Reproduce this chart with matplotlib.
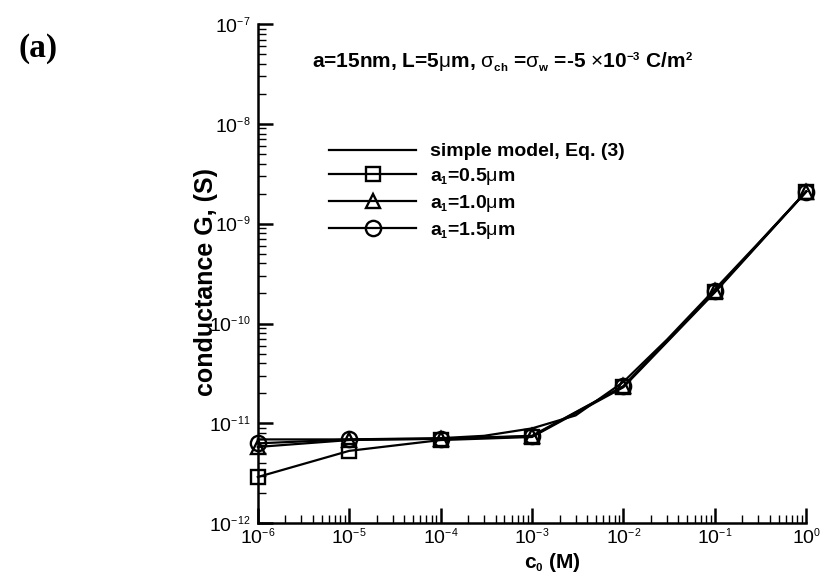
import math
import matplotlib
matplotlib.use("Agg")
import matplotlib.pyplot as plt
import matplotlib._mathtext as mtext
from matplotlib.ticker import LogLocator, NullFormatter, FuncFormatter

# smaller super/subscripts, like the original figure
mtext.SHRINK_FACTOR = 0.55

plt.rcParams['font.family'] = ['Liberation Sans', 'DejaVu Sans']
plt.rcParams['mathtext.fontset'] = 'custom'
plt.rcParams['mathtext.rm'] = 'Liberation Sans'
plt.rcParams['mathtext.it'] = 'Liberation Sans:italic'
plt.rcParams['mathtext.bf'] = 'Liberation Sans:bold'

# concentrations (M)
conc = [1e-6, 1e-5, 1e-4, 1e-3, 1e-2, 1e-1, 1.0]
# conductance (S) for each a1
g_a05 = [2.9e-12, 5.3e-12, 6.8e-12, 7.3e-12, 2.3e-11, 2.05e-10, 2.1e-9]
g_a10 = [5.8e-12, 6.8e-12, 7.0e-12, 7.4e-12, 2.35e-11, 2.1e-10, 2.1e-9]
g_a15 = [6.3e-12, 6.9e-12, 7.0e-12, 7.5e-12, 2.35e-11, 2.1e-10, 2.1e-9]

# simple model curve, read at half-decade steps
conc_model = [1e-6, 3e-6, 1e-5, 3e-5, 1e-4, 3e-4, 1e-3, 3e-3, 1e-2, 3e-2, 1e-1, 3e-1, 1.0]
g_model = [6.9e-12, 6.9e-12, 6.9e-12, 7.0e-12, 7.1e-12, 7.5e-12, 8.9e-12,
           1.2e-11, 2.6e-11, 6.9e-11, 2.2e-10, 6.4e-10, 2.1e-9]

fig = plt.figure(figsize=(8.21, 5.73), dpi=100)
ax = fig.add_axes([0.314, 0.087, 0.668, 0.871])

lw = 1.6
ax.plot(conc_model, g_model, color='black', lw=lw, clip_on=False,
        label='simple model, Eq. (3)')
ax.plot(conc, g_a05, color='black', lw=lw, marker='s', ms=9.5, mew=1.7,
        fillstyle='none', clip_on=False, label=r'a$_{\mathbf{1}}$=0.5$\mathrm{\mu}$m')
ax.plot(conc, g_a10, color='black', lw=lw, marker='^', ms=10, mew=1.7,
        fillstyle='none', clip_on=False, label=r'a$_{\mathbf{1}}$=1.0$\mathrm{\mu}$m')
ax.plot(conc, g_a15, color='black', lw=lw, marker='o', ms=11, mew=1.7,
        fillstyle='none', clip_on=False, label=r'a$_{\mathbf{1}}$=1.5$\mathrm{\mu}$m')

ax.set_xscale('log')
ax.set_yscale('log')
ax.set_xlim(1e-6, 1.0)
ax.set_ylim(1e-12, 1e-7)

ax.spines['top'].set_visible(False)
ax.spines['right'].set_visible(False)
ax.spines['left'].set_linewidth(1.8)
ax.spines['bottom'].set_linewidth(1.8)


def pow_label(v, pos):
    return r'$10^{%d}$' % round(math.log10(v))


for axis in (ax.xaxis, ax.yaxis):
    axis.set_major_locator(LogLocator(base=10, numticks=20))
    axis.set_minor_locator(LogLocator(base=10, subs=range(2, 10), numticks=20))
    axis.set_minor_formatter(NullFormatter())
    axis.set_major_formatter(FuncFormatter(pow_label))

ax.tick_params(which='major', direction='in', length=11, width=1.8, labelsize=14)
ax.tick_params(which='minor', direction='in', length=6, width=1.0)
ax.tick_params(axis='y', pad=5)
ax.tick_params(axis='x', pad=3)

ax.set_xlabel(r'c$_{\mathbf{0}}$ (M)', fontsize=15, fontweight='bold')
ax.set_ylabel('conductance G, (S)', fontsize=18, fontweight='bold')
ax.xaxis.set_label_coords(0.537, -0.055)
ax.yaxis.set_label_coords(-0.072, 0.483)

ax.text(0.447, 0.912,
        r'a=15nm, L=5$\mathrm{\mu}$m, $\mathrm{\sigma}_{\mathbf{ch}}$ =$\mathrm{\sigma}_{\mathbf{w}}$ =-5 $\mathrm{\times}$10$^{\mathbf{-3}}$ C/m$^{\mathbf{2}}$',
        transform=ax.transAxes, ha='center', va='baseline', fontsize=15, fontweight='bold')

fig.text(0.046, 0.916, '(a)', fontsize=24, fontweight='bold', family='Liberation Serif',
         ha='center', va='center')

leg = ax.legend(loc='upper left', bbox_to_anchor=(0.13, 0.762), frameon=False,
                prop={'weight': 'bold', 'size': 14}, handlelength=4.48,
                handletextpad=0.72, labelspacing=0.3, borderpad=0, borderaxespad=0)

fig.savefig('out.png', dpi=100)
